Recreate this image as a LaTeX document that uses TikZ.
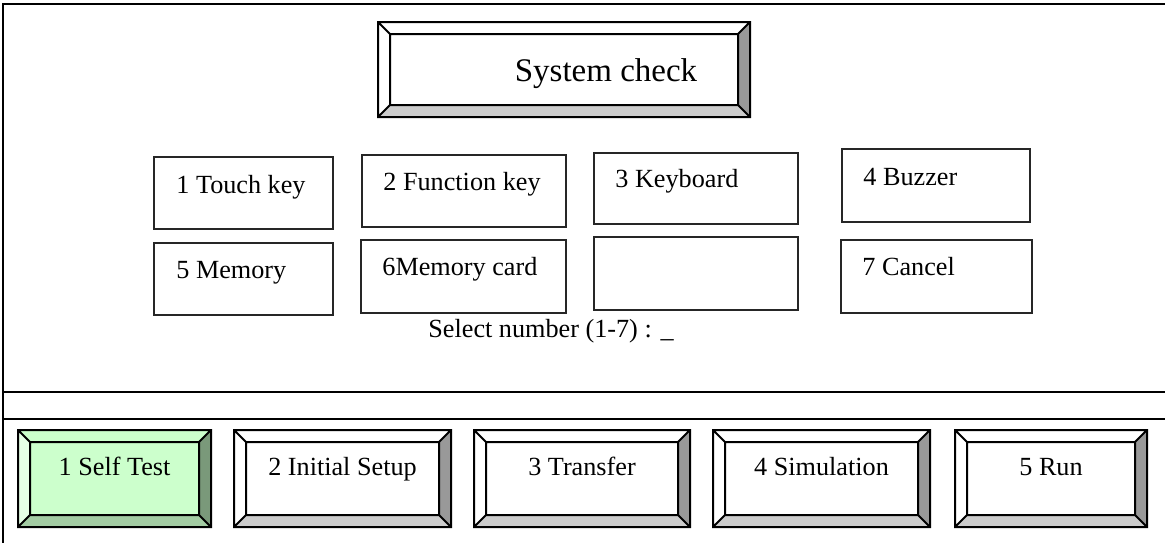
\documentclass[tikz,border=0pt]{standalone}
\usepackage{fontspec}
\setmainfont{Liberation Serif}
\usetikzlibrary{calc}
\definecolor{selfFace}{HTML}{CCFFCC}
\definecolor{selfTop}{HTML}{CCFFCC}
\definecolor{selfLeft}{HTML}{E6FFE6}
\definecolor{selfLow}{HTML}{A3CCA3}
\definecolor{selfDark}{HTML}{7A997A}
\definecolor{plainFace}{HTML}{FFFFFF}
\definecolor{plainTop}{HTML}{FFFFFF}
\definecolor{plainLeft}{HTML}{FFFFFF}
\definecolor{plainLow}{HTML}{CCCCCC}
\definecolor{plainDark}{HTML}{999999}
\tikzset{
  frameline/.style={line width=1pt, black},
  btnline/.style={line width=1pt, black, line join=miter},
  keybox/.style={line width=1pt, draw=black!85},
  keytext/.style={anchor=base west, inner sep=0pt, font=\fontsize{13.1}{15}\selectfont},
  btntext/.style={anchor=base, inner sep=0pt, font=\fontsize{13.1}{15}\selectfont},
  titletext/.style={anchor=base, inner sep=0pt, font=\fontsize{16.5}{20}\selectfont}
}
% bevelled button: x1, y1, x2, y2, colour set
\newcommand{\bevelbtn}[5]{%
  \fill[#5Face] (#1,#2) rectangle (#3,#4);
  \fill[#5Top] (#1,#2) -- (#3,#2) -- (#3-12,#2+12) -- (#1+12,#2+12) -- cycle;
  \fill[#5Left] (#1,#2) -- (#1+12,#2+12) -- (#1+12,#4-12) -- (#1,#4) -- cycle;
  \fill[#5Low] (#1,#4) -- (#1+12,#4-12) -- (#3-12,#4-12) -- (#3,#4) -- cycle;
  \fill[#5Dark] (#3,#2) -- (#3,#4) -- (#3-12,#4-12) -- (#3-12,#2+12) -- cycle;
  \draw[btnline] (#1,#2) rectangle (#3,#4) (#1+12,#2+12) rectangle (#3-12,#4-12)
    (#1,#2) -- (#1+12,#2+12) (#3,#2) -- (#3-12,#2+12)
    (#1,#4) -- (#1+12,#4-12) (#3,#4) -- (#3-12,#4-12);
}

\begin{document}
\begin{tikzpicture}[x=0.5pt, y=-0.5pt]
	\useasboundingbox (0,0) rectangle (1165,543);
	% frame
	\draw[frameline] (1165,4) -- (3,4) -- (3,543);
	\draw[frameline] (3,392) -- (1165,392);
	\draw[frameline] (3,419) -- (1165,419);

	% title
	\bevelbtn{378}{22}{750}{117}{plain}
	\node[titletext] (title) at (606,81) {System check};

	% keys
	\draw[keybox] (154,157) rectangle (333,229);
	\draw[keybox] (362,155) rectangle (566,227);
	\draw[keybox] (594,153) rectangle (798,224);
	\draw[keybox] (842,149) rectangle (1030,222);
	\draw[keybox] (154,243) rectangle (333,315);
	\draw[keybox] (361,240) rectangle (566,313);
	\draw[keybox] (594,237) rectangle (798,310);
	\draw[keybox] (841,240) rectangle (1032,313);
	\node[keytext] (touch) at (176,193) {1 Touch key};
	\node[keytext] (func) at (383,190) {2 Function key};
	\node[keytext] (keyb) at (615,187) {3 Keyboard};
	\node[keytext] (buzz) at (863,185) {4 Buzzer};
	\node[keytext] (mem) at (176,278) {5 Memory};
	\node[keytext] (card) at (382,275) {6Memory card};
	\node[keytext] (cancel) at (862,275) {7 Cancel};

	\node[btntext] (select) at (551,337) {Select number (1-7) : \_};

	% menu bar
	\bevelbtn{18}{430}{211}{527}{self}
	\bevelbtn{234}{430}{451}{527}{plain}
	\bevelbtn{474}{430}{690}{527}{plain}
	\bevelbtn{713}{430}{930}{527}{plain}
	\bevelbtn{955}{430}{1147}{527}{plain}
	\node[btntext] (selftest) at (114.5,475) {1 Self Test};
	\node[btntext] (setup) at (342.5,475) {2 Initial Setup};
	\node[btntext] (transfer) at (582,475) {3 Transfer};
	\node[btntext] (simul) at (821.5,475) {4 Simulation};
	\node[btntext] (run) at (1051,475) {5 Run};

\end{tikzpicture}
\end{document}
